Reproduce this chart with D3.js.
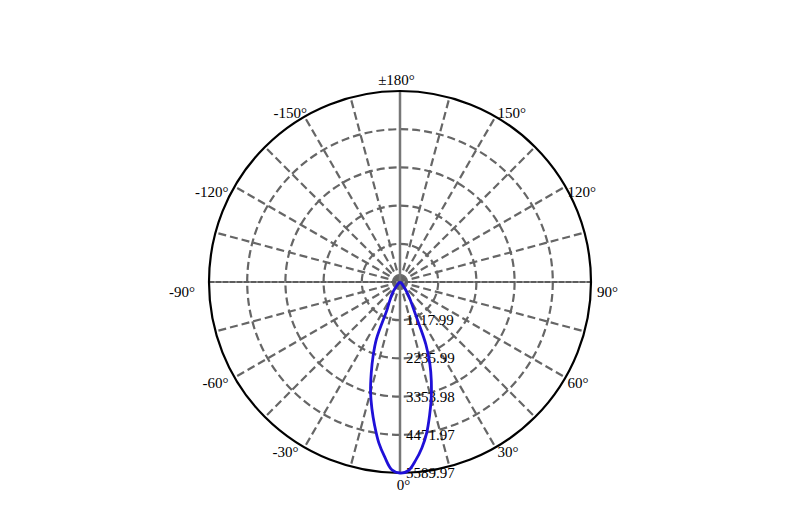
<!DOCTYPE html>
<html>
<head>
<meta charset="utf-8">
<script src="https://cdn.jsdelivr.net/npm/d3@7"></script>
<style>
  body { margin: 0; background: #fff; }
  text { font-family: "Liberation Serif", "Times New Roman", serif; font-size: 15px; fill: #000; }
</style>
</head>
<body>
<div id="chart"></div>
<script>
const WIDTH = 788;
const HEIGHT = 509;
const CX = 400;
const CY = 282;
const RADIUS = 191;
const GRID_COLOR = "#666";
const CURVE_COLOR = "#1f10d8";

// angle ticks (degrees, 0 = down, positive to the right)
const ANGLE_TICKS = [0, 30, 60, 90, 120, 150, 180, -150, -120, -90, -60, -30];
const ANGLE_LABELS = ["0°", "30°", "60°", "90°", "120°", "150°", "±180°", "-150°", "-120°", "-90°", "-60°", "-30°"];
const SPOKE_STEP = 15;

// radial rings (cd)
const RING_VALUES = [1117.99, 2235.99, 3353.98, 4471.97, 5589.97];

// intensity distribution
const GAMMA = [-90, -80, -70, -60, -55, -50, -45, -40, -37.5, -35, -32.5, -30, -27.5, -25, -22.5, -20, -17.5, -15, -12.5, -10, -7.5, -5, -2.5,
               0, 2.5, 5, 7.5, 10, 12.5, 15, 17.5, 20, 22.5, 25, 27.5, 30, 32.5, 35, 37.5, 40, 45, 50, 55, 60, 70, 80, 90];
const CANDELA = [0, 0, 10, 20, 30, 45, 85, 170, 250, 360, 460, 560, 700, 900, 1800, 2300, 2800, 3330, 3800, 4270, 4750, 5140, 5500,
                 5589.97, 5530, 5240, 4900, 4490, 4000, 3530, 3050, 2560, 1980, 1150, 800, 600, 440, 330, 230, 160, 80, 40, 25, 15, 8, 0, 0];

const toRad = (deg) => deg * Math.PI / 180;

const svg = d3.select("#chart")
    .append("svg")
    .attr("width", WIDTH)
    .attr("height", HEIGHT);

const rScale = d3.scaleLinear()
    .domain([0, d3.max(RING_VALUES)])
    .range([0, RADIUS]);

const g = svg.append("g")
    .attr("transform", "translate(" + CX + "," + CY + ")");

// Dashed rings:
g.selectAll("circle.ring")
    .data(RING_VALUES.slice(0, -1))
    .enter()
    .append("circle")
    .attr("class", "ring")
    .attr("r", (d) => rScale(d))
    .attr("fill", "none")
    .attr("stroke", GRID_COLOR)
    .attr("stroke-width", 2.2)
    .attr("stroke-dasharray", "8,4");

// Spokes:
const spokes = d3.range(-180 + SPOKE_STEP, 180 + SPOKE_STEP, SPOKE_STEP);
g.selectAll("line.spoke")
    .data(spokes.filter((d) => d % 90 !== 0))
    .enter()
    .append("line")
    .attr("class", "spoke")
    .attr("x1", 0)
    .attr("y1", 0)
    .attr("x2", (d) => RADIUS * Math.sin(toRad(d)))
    .attr("y2", (d) => RADIUS * Math.cos(toRad(d)))
    .attr("stroke", GRID_COLOR)
    .attr("stroke-width", 2.2)
    .attr("stroke-dasharray", "8,4");

// vertical axis (0 / 180): solid gray
g.append("line")
    .attr("x1", 0).attr("y1", -RADIUS)
    .attr("x2", 0).attr("y2", RADIUS)
    .attr("stroke", "#777")
    .attr("stroke-width", 2.5);

// horizontal axis (-90 / 90): gray with dark short dashes
g.append("line")
    .attr("x1", -RADIUS).attr("y1", 0)
    .attr("x2", RADIUS).attr("y2", 0)
    .attr("stroke", "#888")
    .attr("stroke-width", 2.2);
g.append("line")
    .attr("x1", -RADIUS).attr("y1", 0)
    .attr("x2", RADIUS).attr("y2", 0)
    .attr("stroke", "#333")
    .attr("stroke-width", 1.2)
    .attr("stroke-dasharray", "5,2");

// Outer circle:
g.append("circle")
    .attr("r", RADIUS)
    .attr("fill", "none")
    .attr("stroke", "#000")
    .attr("stroke-width", 2.2);

// Radial labels:
g.selectAll("text.rlabel")
    .data(RING_VALUES)
    .enter()
    .append("text")
    .attr("class", "rlabel")
    .attr("x", 6)
    .attr("y", (d) => rScale(d) + 5)
    .text((d) => d3.format(".2f")(d));

// Angle labels:
g.selectAll("text.alabel")
    .data(ANGLE_TICKS)
    .enter()
    .append("text")
    .attr("class", "alabel")
    .attr("text-anchor", (d) => {
        if (d === 0 || d === 180) return "middle";
        return d > 0 ? "start" : "end";
    })
    .attr("x", (d) => {
        const px = RADIUS * Math.sin(toRad(d));
        if (d === 0) return 3.5;
        if (d === 180) return -3.5;
        if (d === 90) return px + 6;
        if (d === -90) return px - 14;
        if (d === -150) return px + 2.5;
        return d > 0 ? px + 2 : px - 6;
    })
    .attr("y", (d) => {
        const py = RADIUS * Math.cos(toRad(d));
        if (d === 0) return py + 17;
        if (d === 180) return py - 6;
        if (Math.abs(d) === 90) return py + 15;
        if (Math.abs(d) > 135) return py + 1.5;
        return py + 10;
    })
    .text((d, i) => ANGLE_LABELS[i]);

// Intensity curve:
const points = GAMMA.map((a, i) => [toRad(180 - a), rScale(CANDELA[i])]);
const radial = d3.lineRadial()
    .angle((d) => d[0])
    .radius((d) => d[1])
    .curve(d3.curveCatmullRomClosed.alpha(0.5));

g.append("path")
    .datum(points)
    .attr("d", radial)
    .attr("fill", "none")
    .attr("stroke", CURVE_COLOR)
    .attr("stroke-width", 2.8)
    .attr("stroke-linejoin", "round");
</script>
</body>
</html>
